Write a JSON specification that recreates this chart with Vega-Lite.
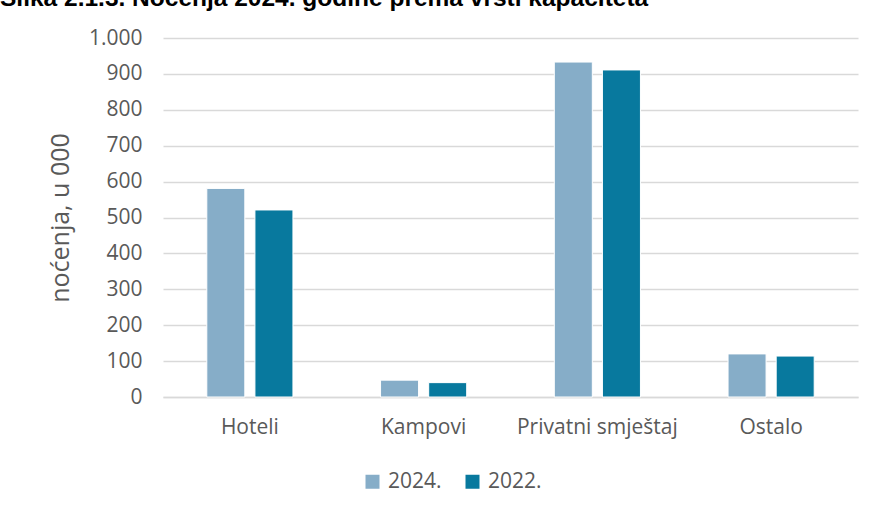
{
  "$schema": "https://vega.github.io/schema/vega-lite/v6.json",
  "width": 695,
  "height": 359,
  "autosize": {"type": "none"},
  "padding": {"left": 163, "top": 38, "right": 16, "bottom": 114},
  "background": "white",
  "title": {
    "text": "Slika 2.1.3. Noćenja 2024. godine prema vrsti kapaciteta",
    "anchor": "start",
    "frame": "group",
    "dx": -163,
    "fontSize": 24.5,
    "fontWeight": "bold",
    "font": "Liberation Sans",
    "color": "#000000",
    "orient": "top",
    "offset": 0,
    "dy": -16
  },
  "data": {
    "values": [
      {"vrsta": "Hoteli", "godina": "2024.", "nocenja": 581},
      {"vrsta": "Hoteli", "godina": "2022.", "nocenja": 521},
      {"vrsta": "Kampovi", "godina": "2024.", "nocenja": 47},
      {"vrsta": "Kampovi", "godina": "2022.", "nocenja": 40},
      {"vrsta": "Privatni smještaj", "godina": "2024.", "nocenja": 933},
      {"vrsta": "Privatni smještaj", "godina": "2022.", "nocenja": 911},
      {"vrsta": "Ostalo", "godina": "2024.", "nocenja": 120},
      {"vrsta": "Ostalo", "godina": "2022.", "nocenja": 114}
    ]
  },
  "mark": {"type": "bar", "stroke": "white", "strokeWidth": 1},
  "encoding": {
    "x": {
      "field": "vrsta",
      "type": "nominal",
      "sort": ["Hoteli", "Kampovi", "Privatni smještaj", "Ostalo"],
      "scale": {"paddingInner": 0, "paddingOuter": 0},
      "axis": {
        "title": null,
        "labelAngle": 0,
        "ticks": false,
        "labelPadding": 19,
        "labelFontSize": 21,
        "labelColor": "#595959",
        "labelFont": "Open Sans",
        "domainColor": "#D9D9D9",
        "domainWidth": 1.5,
        "grid": false
      }
    },
    "xOffset": {
      "field": "godina",
      "type": "nominal",
      "sort": ["2024.", "2022."],
      "scale": {"paddingInner": 0.21, "paddingOuter": 0.91}
    },
    "y": {
      "field": "nocenja",
      "type": "quantitative",
      "scale": {"domain": [0, 1000], "nice": false},
      "axis": {
        "title": "noćenja, u 000",
        "titleFontSize": 25,
        "titleFontWeight": "normal",
        "titleColor": "#595959",
        "titleFont": "Open Sans",
        "titlePadding": 15,
        "values": [0, 100, 200, 300, 400, 500, 600, 700, 800, 900, 1000],
        "format": ",d",
        "ticks": false,
        "domain": false,
        "labelPadding": 21,
        "labelFontSize": 21,
        "labelColor": "#595959",
        "labelFont": "Open Sans",
        "gridColor": "#D9D9D9",
        "gridWidth": 1.5
      }
    },
    "color": {
      "field": "godina",
      "type": "nominal",
      "sort": ["2024.", "2022."],
      "scale": {"domain": ["2024.", "2022."], "range": ["#86ADC8", "#08799E"]},
      "legend": {
        "title": null,
        "orient": "none",
        "legendX": 199,
        "legendY": 433,
        "direction": "horizontal",
        "symbolType": "square",
        "symbolSize": 196,
        "symbolStrokeWidth": 0,
        "labelFontSize": 21,
        "labelColor": "#595959",
        "labelFont": "Open Sans",
        "labelOffset": 5,
        "columnPadding": 20
      }
    }
  },
  "config": {
    "locale": {
      "number": {"decimal": ",", "thousands": ".", "grouping": [3], "currency": ["", " €"]}
    },
    "view": {"stroke": null}
  }
}
